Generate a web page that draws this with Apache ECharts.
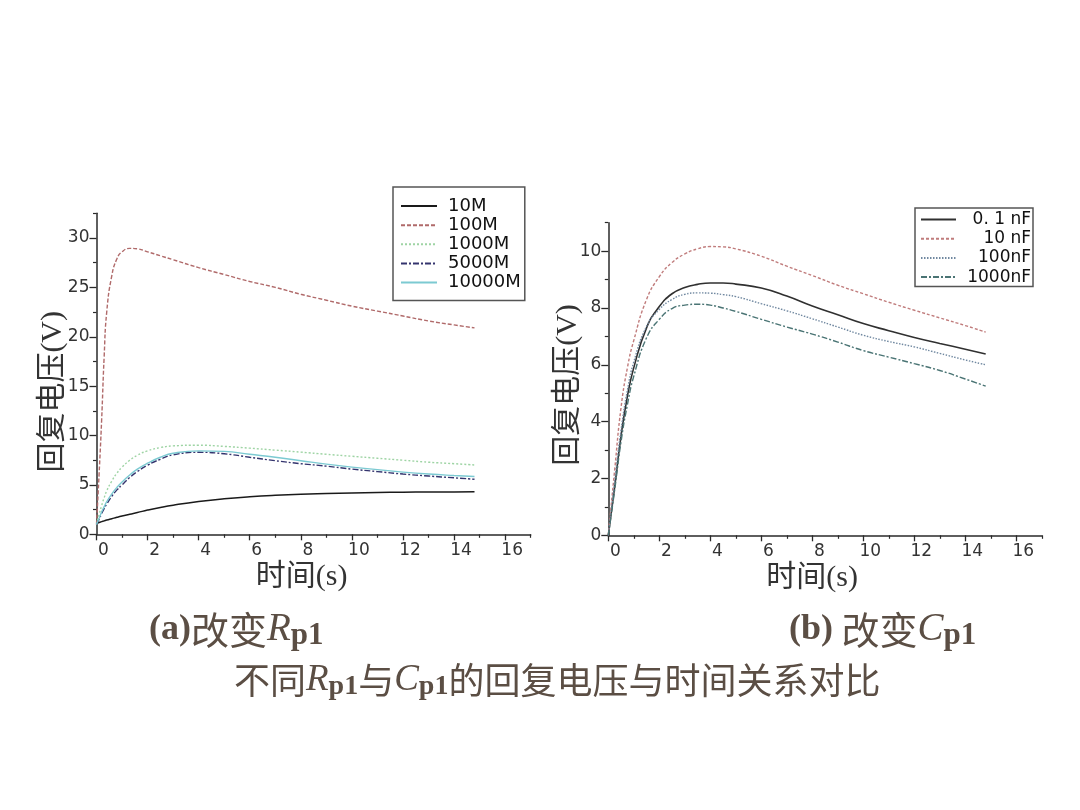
<!DOCTYPE html>
<html><head><meta charset="utf-8">
<script src="https://cdn.jsdelivr.net/npm/echarts@6/dist/echarts.min.js"></script>
<style>html,body{margin:0;padding:0;background:#fff}#c{width:1080px;height:810px}</style>
</head><body><div id="c"></div>
<script>
// ---------- data (a) 改变 Rp1 ----------
const timeA = [0, 0.05, 0.1, 0.2, 0.3, 0.4, 0.6, 0.8, 1.0, 1.3, 1.6, 2, 2.5, 3, 4, 5, 6, 7, 8, 9, 10, 11, 12, 13, 14, 14.8];
const namesA = ['10M', '100M', '1000M', '5000M', '10000M'];
const r10M    = [1.1, 1.15, 1.2, 1.28, 1.36, 1.44, 1.58, 1.72, 1.85, 2.03, 2.2, 2.45, 2.72, 2.95, 3.32, 3.6, 3.8, 3.95, 4.06, 4.13, 4.19, 4.23, 4.26, 4.28, 4.29, 4.3];
const r100M   = [1.0, 3.5, 6.0, 11.5, 18.0, 22.5, 26.2, 27.9, 28.6, 28.95, 28.9, 28.6, 28.2, 27.8, 27.0, 26.3, 25.6, 25.0, 24.3, 23.7, 23.1, 22.6, 22.1, 21.6, 21.2, 20.9];
const r1000M  = [1.0, 1.5, 2.0, 2.9, 3.7, 4.4, 5.4, 6.2, 6.8, 7.5, 8.0, 8.45, 8.78, 8.95, 9.02, 8.9, 8.72, 8.52, 8.32, 8.1, 7.9, 7.7, 7.5, 7.3, 7.15, 7.02];
const r5000M  = [1.0, 1.25, 1.5, 2.1, 2.6, 3.05, 3.85, 4.5, 5.0, 5.75, 6.35, 7.0, 7.6, 8.05, 8.3, 8.15, 7.8, 7.45, 7.15, 6.9, 6.6, 6.35, 6.1, 5.9, 5.72, 5.57];
const r10000M = [1.0, 1.3, 1.6, 2.25, 2.8, 3.3, 4.1, 4.75, 5.3, 6.0, 6.6, 7.2, 7.8, 8.2, 8.45, 8.4, 8.1, 7.8, 7.45, 7.1, 6.8, 6.55, 6.3, 6.1, 5.95, 5.85];

// ---------- data (b) 改变 Cp1 ----------
const timeB = [0, 0.25, 0.5, 0.75, 1, 1.5, 2, 2.5, 3, 3.5, 4, 4.5, 5, 6, 7, 8, 9, 10, 11, 12, 13, 14, 14.8];
const namesB = ['0. 1 nF', '10 nF', '100nF', '1000nF'];
const c01nF   = [0, 1.7, 3.5, 4.9, 5.9, 7.3, 8.05, 8.5, 8.72, 8.83, 8.88, 8.88, 8.84, 8.7, 8.42, 8.07, 7.76, 7.45, 7.2, 6.96, 6.75, 6.55, 6.38];
const c10nF   = [0, 2.3, 4.5, 5.9, 6.86, 8.3, 9.1, 9.6, 9.9, 10.08, 10.16, 10.15, 10.08, 9.82, 9.47, 9.14, 8.8, 8.5, 8.2, 7.92, 7.65, 7.38, 7.15];
const c100nF  = [0, 1.9, 3.7, 5.1, 6.1, 7.35, 7.95, 8.3, 8.48, 8.53, 8.52, 8.47, 8.4, 8.15, 7.9, 7.62, 7.33, 7.04, 6.82, 6.63, 6.4, 6.17, 6.0];
const c1000nF = [0, 1.6, 3.3, 4.6, 5.6, 6.95, 7.6, 7.98, 8.1, 8.13, 8.1, 8.0, 7.88, 7.6, 7.33, 7.08, 6.8, 6.5, 6.27, 6.04, 5.8, 5.5, 5.25];

// ---------- ticks ----------
const xMajor = [0, 2, 4, 6, 8, 10, 12, 14, 16];
const xMinor = [1, 3, 5, 7, 9, 11, 13, 15, 17];
const yMajorA = [0, 5, 10, 15, 20, 25, 30];
const yMinorA = [2.5, 7.5, 12.5, 17.5, 22.5, 27.5, 32.5];
const yMajorB = [0, 2, 4, 6, 8, 10];
const yMinorB = [1, 3, 5, 7, 9, 11];

const pair = (ts, vs) => ts.map((t, i) => [t, vs[i]]);
const AX = '#2a2a2a';
const labelStyle = {fontFamily: 'DejaVu Sans', fontSize: 17, color: '#333'};
const nameStyle = {fontFamily: "'Liberation Serif','Noto Sans CJK SC'", fontSize: 30, color: '#333', fontWeight: 'normal'};

function xAxes(gridIndex, nameShift) {
  return [
    {gridIndex, type: 'value', min: 0, max: 17, position: 'bottom',
     name: '时间(s)', nameLocation: 'middle', nameGap: 28, nameMoveOverlap: false,
     nameTextStyle: Object.assign({padding: [0, nameShift, 0, 0]}, nameStyle),
     axisLine: {show: true, lineStyle: {color: AX, width: 1.5}},
     axisTick: {show: true, inside: false, length: 6, customValues: xMajor, lineStyle: {color: AX, width: 1.3}},
     axisLabel: Object.assign({customValues: xMajor, margin: 8, padding: [0, 0, 0, 14]}, labelStyle),
     splitLine: {show: false}},
    {gridIndex, type: 'value', min: 0, max: 17, position: 'bottom',
     axisLine: {show: false},
     axisTick: {show: true, inside: false, length: 3.5, customValues: xMinor, lineStyle: {color: AX, width: 1.2}},
     axisLabel: {show: false}, splitLine: {show: false}}
  ];
}
function yAxes(gridIndex, max, major, minor, gap, shift) {
  return [
    {gridIndex, type: 'value', min: 0, max, position: 'left',
     name: '回复电压(V)', nameLocation: 'middle', nameGap: gap, nameRotate: 90, nameMoveOverlap: false,
     nameTextStyle: Object.assign({padding: [0, shift, 0, 0]}, nameStyle),
     axisLine: {show: true, lineStyle: {color: AX, width: 1.5}},
     axisTick: {show: true, inside: false, length: 7, customValues: major, lineStyle: {color: AX, width: 1.3}},
     axisLabel: Object.assign({customValues: major, margin: 7}, labelStyle),
     splitLine: {show: false}},
    {gridIndex, type: 'value', min: 0, max, position: 'left',
     axisLine: {show: false},
     axisTick: {show: true, inside: false, length: 3.5, customValues: minor, lineStyle: {color: AX, width: 1.2}},
     axisLabel: {show: false}, splitLine: {show: false}}
  ];
}
function line(name, xi, yi, data, color, type, width) {
  return {name, type: 'line', xAxisIndex: xi, yAxisIndex: yi, data, showSymbol: false, symbol: 'none',
          smooth: 0.5, z: 3,
          lineStyle: {color, type, width: width || 1.4}, itemStyle: {color}};
}

const capColor = '#5b4e44';
function rich(b, c, i, s) {
  return {
    b: {fontFamily: 'Liberation Serif', fontWeight: 'bold', fontSize: b, color: capColor, lineHeight: 42},
    c: {fontFamily: 'Noto Sans CJK SC', fontWeight: 'normal', fontSize: c, color: capColor, lineHeight: 42},
    i: {fontFamily: 'Liberation Serif', fontWeight: 'normal', fontStyle: 'italic', fontSize: i, color: capColor, lineHeight: 42},
    s: {fontFamily: 'Liberation Serif', fontWeight: 'bold', fontSize: s, color: capColor, lineHeight: 20, verticalAlign: 'bottom'}
  };
}
const richSub = rich(36, 38, 39, 31);
const richMain = rich(36, 36, 37, 28);
const tStyle = r => ({fontWeight: 'normal', rich: r});

const hideSym = {color: 'rgba(0,0,0,0)', borderColor: 'rgba(0,0,0,0)', borderWidth: 0};

const chart = echarts.init(document.getElementById('c'), null, {renderer: 'canvas'});
chart.setOption({
  animation: false,
  backgroundColor: '#ffffff',
  title: [
    {text: '{b|(a)}{c|改变}{i|R}{s|p1}', left: 149, top: 609, padding: 0, textStyle: tStyle(richSub)},
    {text: '{b|(b)}{c| 改变}{i|C}{s|p1}', left: 789, top: 609, padding: 0, textStyle: tStyle(richSub)},
    {text: '{c|不同}{i|R}{s|p1}{c|与}{i|C}{s|p1}{c|的回复电压与时间关系对比}', left: 234, top: 659, padding: 0, textStyle: tStyle(richMain)}
  ],
  grid: [
    {left: 96.5, top: 213.3, width: 434.2, height: 321},
    {left: 608.3, top: 222.7, width: 433.5, height: 312.6}
  ],
  xAxis: [...xAxes(0, 24), ...xAxes(1, 26)],
  yAxis: [...yAxes(0, 32.5, yMajorA, yMinorA, 28, 36), ...yAxes(1, 11, yMajorB, yMinorB, 25, 12)],
  legend: [
    {data: namesA, orient: 'vertical', left: 393, top: 187, itemWidth: 36, itemHeight: 14, itemGap: 1.15,
     padding: [10, 4, 9, 7], borderColor: '#555', borderWidth: 1.5, borderRadius: 0,
     itemStyle: hideSym,
     textStyle: {fontFamily: 'DejaVu Sans', fontSize: 18, color: '#111', padding: [0, 0, 0, 6]}},
    {data: namesB, orient: 'vertical', left: 915, top: 208, itemWidth: 35, itemHeight: 14, itemGap: 2.2,
     padding: [3, 2, 1, 5], borderColor: '#555', borderWidth: 1.5, borderRadius: 0,
     itemStyle: hideSym,
     formatter: n => '{r|' + n + '}',
     textStyle: {rich: {r: {fontFamily: 'DejaVu Sans', fontSize: 17, color: '#111', width: 70, align: 'right', lineHeight: 17}}}}
  ],
  series: [
    line('10M', 0, 0, pair(timeA, r10M), '#1a1a1a', 'solid', 1.5),
    line('100M', 0, 0, pair(timeA, r100M), '#b06a6a', [4, 2], 1.4),
    line('1000M', 0, 0, pair(timeA, r1000M), '#9ed4a4', [2, 2], 1.4),
    line('5000M', 0, 0, pair(timeA, r5000M), '#34346e', [6, 2, 2, 2], 1.4),
    line('10000M', 0, 0, pair(timeA, r10000M), '#7ccad2', 'solid', 1.4),
    line('0. 1 nF', 2, 2, pair(timeB, c01nF), '#303030', 'solid', 1.6),
    line('10 nF', 2, 2, pair(timeB, c10nF), '#c07c7c', [3, 2], 1.4),
    line('100nF', 2, 2, pair(timeB, c100nF), '#7088a0', [1.5, 1.5], 1.4),
    line('1000nF', 2, 2, pair(timeB, c1000nF), '#4a7474', [6, 2, 2, 2], 1.4)
  ]
});
</script>
</body></html>
